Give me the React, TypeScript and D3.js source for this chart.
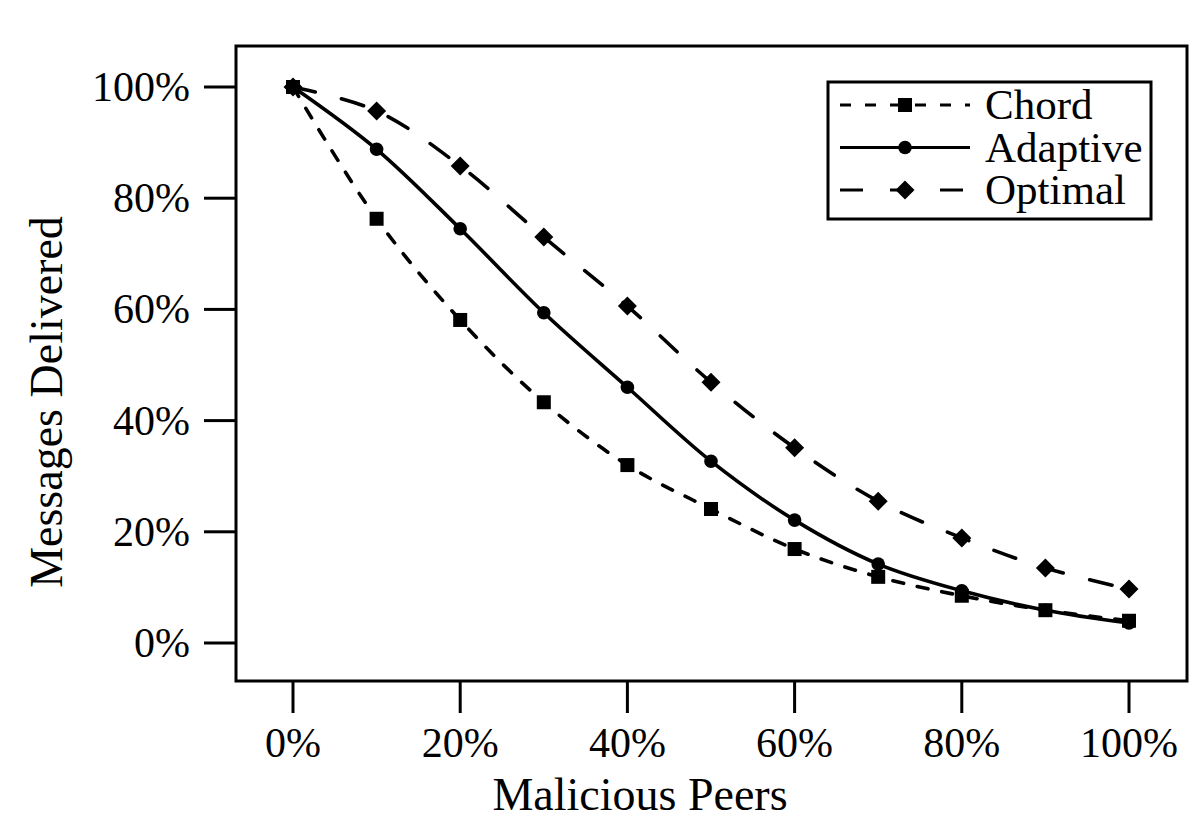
import { useEffect, useRef } from "react";
import * as d3 from "d3";

// x positions (share of malicious peers, %)
const peers = [0, 10, 20, 30, 40, 50, 60, 70, 80, 90, 100];
// messages delivered (%)
const chord = [100, 76.3, 58.1, 43.3, 32.0, 24.1, 16.9, 11.9, 8.5, 5.9, 4.0];
const adaptive = [100, 88.8, 74.5, 59.4, 46.0, 32.7, 22.1, 14.2, 9.4, 5.9, 3.6];
const optimal = [100, 95.7, 85.8, 73.0, 60.6, 46.9, 35.1, 25.5, 18.9, 13.5, 9.7];
const xTicks = [0, 20, 40, 60, 80, 100];
const yTicks = [0, 20, 40, 60, 80, 100];

const seriesNames = ["Chord", "Adaptive", "Optimal"];

export default function App() {
  const svgRef = useRef<SVGSVGElement>(null);

  useEffect(() => {
    document.body.style.margin = "0";
    if (!svgRef.current) return;
    const W = 1200;
    const H = 825;
    const box = { left: 236, right: 1187, top: 46, bottom: 681 };
    const font = "'Liberation Serif', 'Times New Roman', serif";

    const svg = d3.select(svgRef.current);
    svg.selectAll("*").remove();
    svg.append("rect").attr("width", W).attr("height", H).attr("fill", "#fff");

    const x = d3.scaleLinear().domain([0, 100]).range([293, 1129]);
    const y = d3.scaleLinear().domain([0, 100]).range([643, 87]);

    const lw = 3;
    const dataLw = 3.6;

    // Plot box
    svg
      .append("rect")
      .attr("x", box.left)
      .attr("y", box.top)
      .attr("width", box.right - box.left)
      .attr("height", box.bottom - box.top)
      .attr("fill", "none")
      .attr("stroke", "#000")
      .attr("stroke-width", lw);

    // X axis ticks + labels
    const xa = svg.append("g");
    xTicks.forEach((t) => {
      xa.append("line")
        .attr("x1", x(t))
        .attr("x2", x(t))
        .attr("y1", box.bottom)
        .attr("y2", box.bottom + 32)
        .attr("stroke", "#000")
        .attr("stroke-width", lw);
      xa.append("text")
        .attr("x", x(t))
        .attr("y", 757)
        .attr("text-anchor", "middle")
        .style("font-family", font)
        .style("font-size", "42px")
        .text(`${t}%`);
    });

    // Y axis ticks + labels
    const ya = svg.append("g");
    yTicks.forEach((t) => {
      ya.append("line")
        .attr("x1", box.left - 32)
        .attr("x2", box.left)
        .attr("y1", y(t))
        .attr("y2", y(t))
        .attr("stroke", "#000")
        .attr("stroke-width", lw);
      ya.append("text")
        .attr("x", 190)
        .attr("y", y(t) + 14)
        .attr("text-anchor", "end")
        .style("font-family", font)
        .style("font-size", "42px")
        .text(`${t}%`);
    });

    // Axis titles
    svg
      .append("text")
      .attr("x", 640)
      .attr("y", 810)
      .attr("text-anchor", "middle")
      .style("font-family", font)
      .style("font-size", "46px")
      .text("Malicious Peers");

    svg
      .append("text")
      .attr("transform", "translate(62,402) rotate(-90)")
      .attr("text-anchor", "middle")
      .style("font-family", font)
      .style("font-size", "46px")
      .text("Messages Delivered");

    const styles: Record<string, { dash: string | null; marker: string }> = {
      Chord: { dash: "11,14", marker: "square" },
      Adaptive: { dash: null, marker: "circle" },
      Optimal: { dash: "23,27", marker: "diamond" },
    };
    const values: Record<string, number[]> = { Chord: chord, Adaptive: adaptive, Optimal: optimal };

    const drawMarker = (g: d3.Selection<SVGGElement, unknown, null, undefined>, kind: string, cx: number, cy: number) => {
      if (kind === "square") {
        g.append("rect").attr("x", cx - 7).attr("y", cy - 7).attr("width", 14).attr("height", 14).attr("fill", "#000");
      } else if (kind === "circle") {
        g.append("circle").attr("cx", cx).attr("cy", cy).attr("r", 6.8).attr("fill", "#000");
      } else {
        const r = 9.5;
        g.append("path")
          .attr("d", `M${cx},${cy - r}L${cx + r},${cy}L${cx},${cy + r}L${cx - r},${cy}Z`)
          .attr("fill", "#000");
      }
    };

    const line = d3
      .line<number>()
      .x((_d, i) => x(peers[i]))
      .y((d) => y(d))
      .curve(d3.curveCatmullRom.alpha(0.5));

    const plot = svg.append("g");
    seriesNames.forEach((name) => {
      const s = styles[name];
      const p = plot
        .append("path")
        .attr("d", line(values[name]) || "")
        .attr("fill", "none")
        .attr("stroke", "#000")
        .attr("stroke-width", dataLw)
        .attr("stroke-linecap", "round");
      if (s.dash) p.attr("stroke-dasharray", s.dash);
      const mg = plot.append("g");
      values[name].forEach((v, i) => drawMarker(mg, s.marker, x(peers[i]), y(v)));
    });

    // Legend
    const lg = svg.append("g");
    lg.append("rect")
      .attr("x", 828)
      .attr("y", 82)
      .attr("width", 323)
      .attr("height", 137)
      .attr("fill", "#fff")
      .attr("stroke", "#000")
      .attr("stroke-width", lw);
    seriesNames.forEach((name, i) => {
      const s = styles[name];
      const cy = 105 + i * 42.5;
      const l = lg
        .append("line")
        .attr("x1", 840)
        .attr("x2", 970)
        .attr("y1", cy)
        .attr("y2", cy)
        .attr("stroke", "#000")
        .attr("stroke-width", dataLw - 0.6);
      if (s.dash) l.attr("stroke-dasharray", s.dash);
      drawMarker(lg, s.marker, 905, cy);
      lg.append("text")
        .attr("x", 985)
        .attr("y", cy + 14)
        .style("font-family", font)
        .style("font-size", "43px")
        .text(name);
    });
  }, []);

  return <svg ref={svgRef} width={1200} height={825} style={{ display: "block" }} />;
}
